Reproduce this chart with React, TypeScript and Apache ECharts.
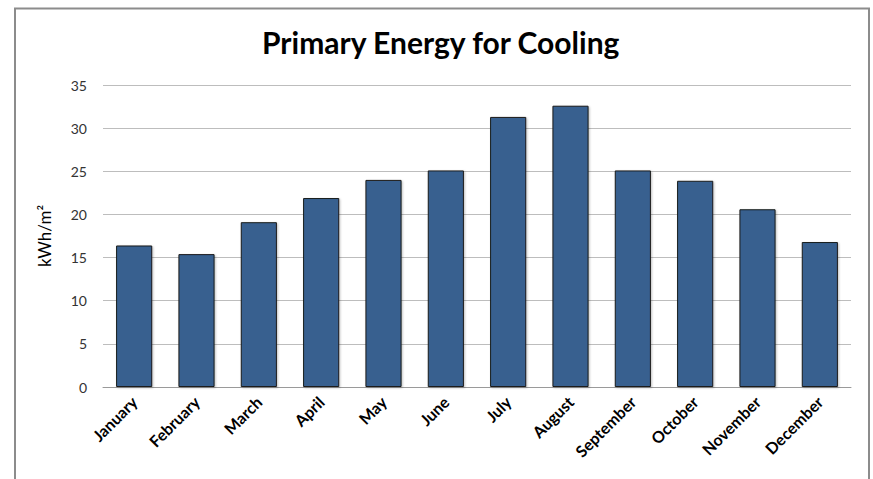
import React, { useEffect, useRef } from "react";
import * as echarts from "echarts";

const months = [
  "January", "February", "March", "April", "May", "June",
  "July", "August", "September", "October", "November", "December",
];
const cooling = [16.4, 15.4, 19.1, 21.9, 24.0, 25.1, 31.3, 32.6, 25.1, 23.9, 20.6, 16.8];
const titleText = "Primary Energy for Cooling";
const unitLabel = "kWh/m²";

const FONT = "Lato, 'Open Sans', sans-serif";

export default function App() {
  const ref = useRef<HTMLDivElement>(null);

  useEffect(() => {
    document.body.style.margin = "0";
    if (!ref.current) return;
    const chart = echarts.init(ref.current, undefined, { renderer: "svg" });
    chart.setOption({
      animation: false,
      backgroundColor: "#ffffff",
      title: {
        text: titleText,
        left: 257,
        top: 22,
        textStyle: { fontFamily: FONT, fontSize: 30, fontWeight: "bold", color: "#000" },
      },
      graphic: [
        {
          type: "rect",
          shape: { x: 15, y: 8.5, width: 854, height: 490 },
          style: { fill: "none", stroke: "#8c8c8c", lineWidth: 2 },
          silent: true,
        },
      ],
      grid: { left: 103, right: 22, top: 85, bottom: 92 },
      xAxis: {
        type: "category",
        data: months,
        axisLine: { lineStyle: { color: "#9a9a9a", width: 1 } },
        axisTick: { show: false },
        axisLabel: {
          rotate: 45,
          interval: 0,
          margin: 12,
          fontFamily: FONT,
          fontSize: 16,
          fontWeight: "bold",
          color: "#000",
        },
      },
      yAxis: {
        type: "value",
        min: 0,
        max: 35,
        interval: 5,
        name: unitLabel,
        nameLocation: "middle",
        nameGap: 50,
        nameTextStyle: { fontFamily: FONT, fontSize: 17, color: "#000" },
        axisLine: { show: false },
        axisTick: { show: false },
        axisLabel: { fontFamily: FONT, fontSize: 14, color: "#333", margin: 16 },
        splitLine: { lineStyle: { color: "#bdbdbd", width: 1 } },
      },
      series: [
        {
          type: "bar",
          data: cooling,
          barCategoryGap: "42%",
          itemStyle: {
            color: "#37608f",
            borderColor: "#1a1a1a",
            borderWidth: 1,
            shadowColor: "rgba(0,0,0,0.25)",
            shadowBlur: 2,
            shadowOffsetX: 1,
            shadowOffsetY: 1,
          },
        },
      ],
    });
    return () => chart.dispose();
  }, []);

  return <div ref={ref} style={{ position: "absolute", left: 0, top: 0, width: 873, height: 479 }} />;
}
